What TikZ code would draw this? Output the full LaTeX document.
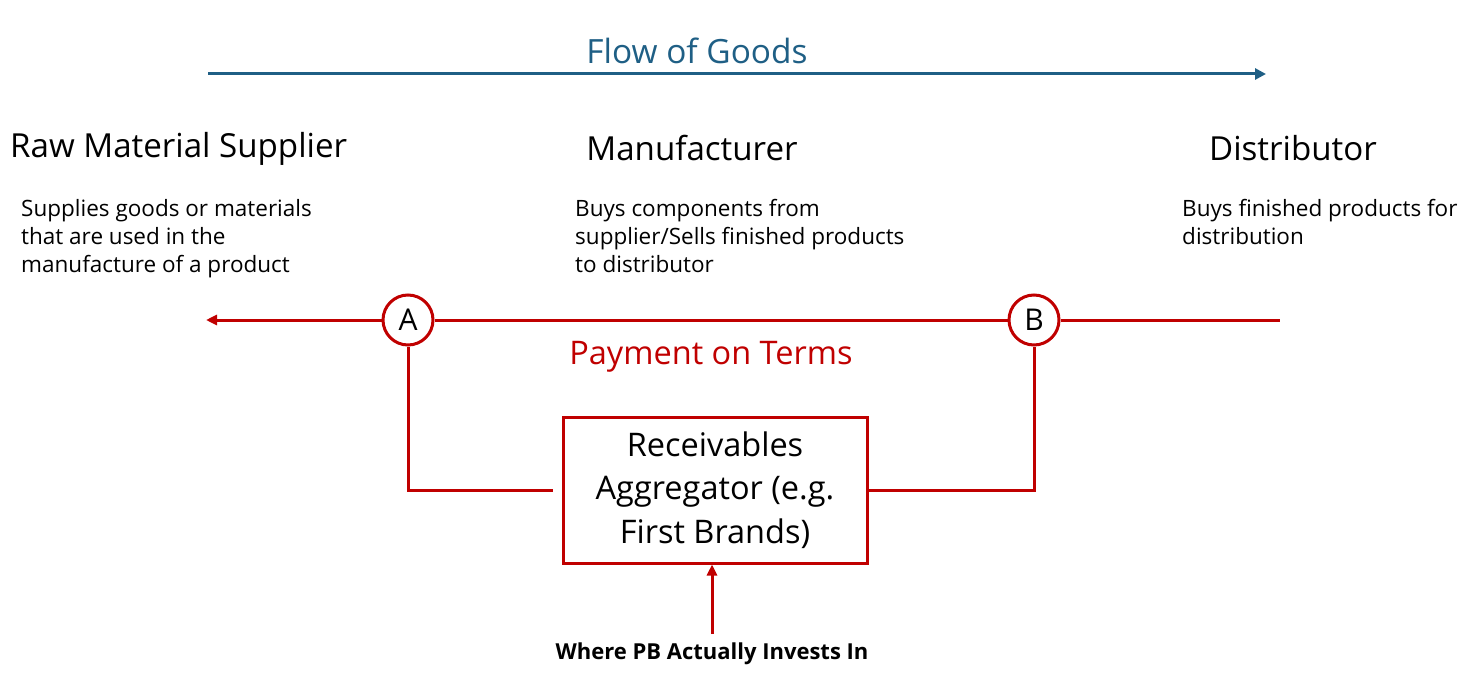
\documentclass[tikz,border=0pt]{standalone}
\usepackage{fontspec}
\setmainfont{Open Sans}
\usetikzlibrary{arrows.meta}
\definecolor{goodsblue}{HTML}{1F5F85}
\definecolor{payred}{HTML}{C00000}
\tikzset{
  x=1pt,y=-1pt,
  title/.style={inner sep=0pt,font=\fontsize{33.4}{38}\selectfont},
  party/.style={inner sep=0pt,font=\fontsize{33.1}{38}\selectfont},
  desc/.style={inner sep=0pt,anchor=north west,align=left,font=\fontsize{22.5}{28}\selectfont},
  redline/.style={draw=payred,line width=3pt},
  circ/.style={circle,draw=payred,line width=3pt,fill=white,minimum size=50pt,inner sep=0pt,font=\fontsize{30}{34}\selectfont},
  aggbox/.style={draw=payred,line width=3pt,minimum width=304pt,minimum height=146pt,align=center,inner sep=0pt,font=\fontsize{32.5}{43.5}\selectfont},
}
\begin{document}
\begin{tikzpicture}
\useasboundingbox (0,0) rectangle (1482,682);
% flow of goods
\node[title,text=goodsblue] (flow) at (697,51) {Flow of Goods};
\coordinate (g1) at (208,74);
\coordinate (g2) at (1266,74);
\draw[goodsblue,line width=3pt,-{Triangle[length=11pt,width=11pt]}] (g1) -- (g2);
% parties
\node[party,anchor=west] (raw) at (10,149) {Raw Material Supplier};
\node[party] (man) at (692,148) {Manufacturer};
\node[party] (dist) at (1293,148) {Distributor};
\node[desc] (rawd) at (21,199) {Supplies goods or materials\\that are used in the\\manufacture of a product};
\node[desc] (mand) at (575,199) {Buys components from\\supplier/Sells finished products\\to distributor};
\node[desc] (distd) at (1182,199) {Buys finished products for\\distribution};
% payment line
\node[circ] (A) at (408,320) {A};
\node[circ] (B) at (1034,320) {B};
\coordinate (pl) at (206,320);
\coordinate (pr) at (1280,320);
\draw[redline,-{Triangle[length=11pt,width=10pt]}] (A) -- (pl);
\draw[redline] (A) -- (B);
\draw[redline] (B) -- (pr);
\node[inner sep=0pt,text=payred,font=\fontsize{32.5}{36}\selectfont] (pay) at (711,357) {Payment on Terms};
% aggregator
\node[aggbox] (agg) at (715,490) {Receivables\\Aggregator (e.g.\\First Brands)};
\coordinate (al) at (553,490);
\draw[redline] (A.south) |- (al);
\draw[redline] (agg.east) -| (B.south);
% investor
\node[inner sep=0pt,font=\bfseries\fontsize{22}{26}\selectfont] (pb) at (712,654) {Where PB Actually Invests In};
\coordinate (pbt) at (712,634);
\draw[redline,-{Triangle[length=11pt,width=10pt]}] (pbt) -- (pbt |- agg.south);
\end{tikzpicture}
\end{document}
